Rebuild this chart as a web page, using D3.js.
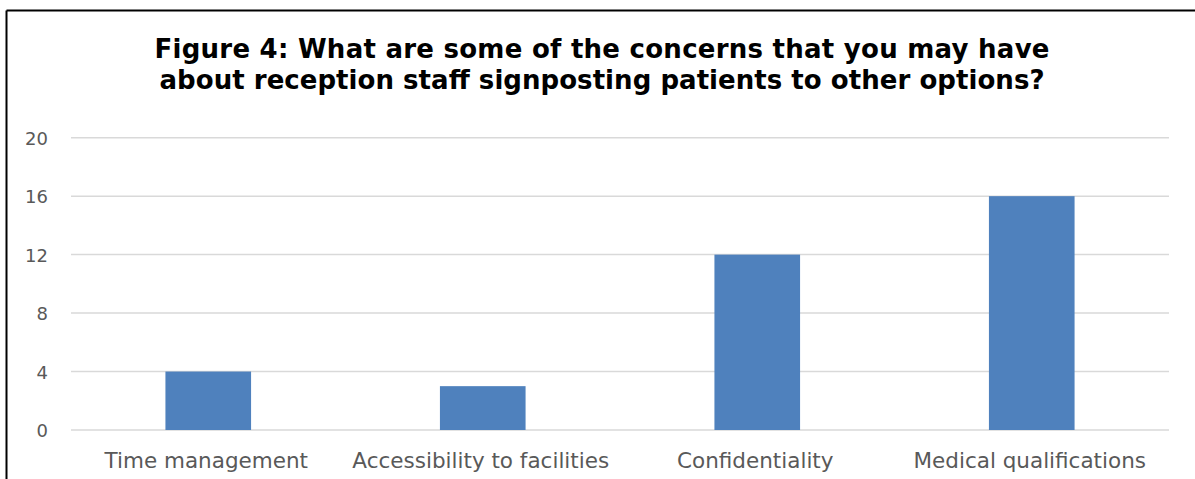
<!DOCTYPE html>
<html>
<head>
<meta charset="utf-8">
<script src="https://cdn.jsdelivr.net/npm/d3@7"></script>
<style>
  html, body { margin: 0; padding: 0; background: #fff; }
  svg { display: block; }
</style>
</head>
<body>
<svg id="chart" width="1195" height="479"></svg>
<script>
// Survey responses: concerns about reception staff signposting patients
const categories = ["Time management", "Accessibility to facilities", "Confidentiality", "Medical qualifications"];
const counts = [4, 3, 12, 16];
const yTicks = [0, 4, 8, 12, 16, 20];
const titleLines = [
  "Figure 4: What are some of the concerns that you may have",
  "about reception staff signposting patients to other options?"
];

const W = 1195, H = 479;
const plot = { left: 71, right: 1169, top: 137.7, bottom: 430 };
const fontFamily = "'DejaVu Sans', sans-serif";

const svg = d3.select("#chart");

// Frame: top and left edges
svg.append("line").attr("x1", 6.5).attr("x2", W).attr("y1", 10.5).attr("y2", 10.5)
  .attr("stroke", "#000").attr("stroke-width", 2);
svg.append("line").attr("x1", 6.5).attr("x2", 6.5).attr("y1", 10.5).attr("y2", H)
  .attr("stroke", "#000").attr("stroke-width", 2);

const x = d3.scaleBand()
  .domain(categories)
  .range([plot.left, plot.right])
  .paddingInner(0.688)
  .paddingOuter(0.344);

const y = d3.scaleLinear()
  .domain([0, 20])
  .range([plot.bottom, plot.top]);

// Horizontal gridlines
svg.append("g")
  .selectAll("line")
  .data(yTicks)
  .join("line")
  .attr("x1", plot.left).attr("x2", plot.right)
  .attr("y1", d => y(d)).attr("y2", d => y(d))
  .attr("stroke", "#d9d9d9").attr("stroke-width", 1.5);

// Y axis labels
const yAxis = d3.axisLeft(y).tickValues(yTicks).tickSize(0).tickPadding(0);
const yg = svg.append("g").attr("transform", `translate(48,0)`).call(yAxis);
yg.select(".domain").remove();
yg.selectAll("text")
  .attr("font-family", fontFamily)
  .attr("font-size", 18)
  .attr("fill", "#595959")
  .attr("dy", "0.36em");

// Bars
svg.append("g")
  .selectAll("rect")
  .data(categories)
  .join("rect")
  .attr("x", d => x(d))
  .attr("width", x.bandwidth())
  .attr("y", (d, i) => y(counts[i]))
  .attr("height", (d, i) => y(0) - y(counts[i]))
  .attr("fill", "#4f81bd");

// X axis labels
const xAxis = d3.axisBottom(x).tickSize(0).tickPadding(0);
const xg = svg.append("g").attr("transform", `translate(-2,${plot.bottom})`).call(xAxis);
xg.select(".domain").remove();
xg.selectAll("text")
  .attr("font-family", fontFamily)
  .attr("font-size", 21.5)
  .attr("fill", "#595959")
  .attr("dy", 0)
  .attr("y", 38);

// Title, two centred lines spread to the chart's title width
const titleWidths = [895, 885];
const title = svg.append("text")
  .attr("text-anchor", "middle")
  .attr("font-family", fontFamily)
  .attr("font-weight", "bold")
  .attr("font-size", 26)
  .attr("fill", "#000");
title.selectAll("tspan")
  .data(titleLines)
  .join("tspan")
  .attr("x", 602)
  .attr("y", (d, i) => 58 + i * 31)
  .attr("textLength", (d, i) => titleWidths[i])
  .attr("lengthAdjust", "spacing")
  .text(d => d);
</script>
</body>
</html>
